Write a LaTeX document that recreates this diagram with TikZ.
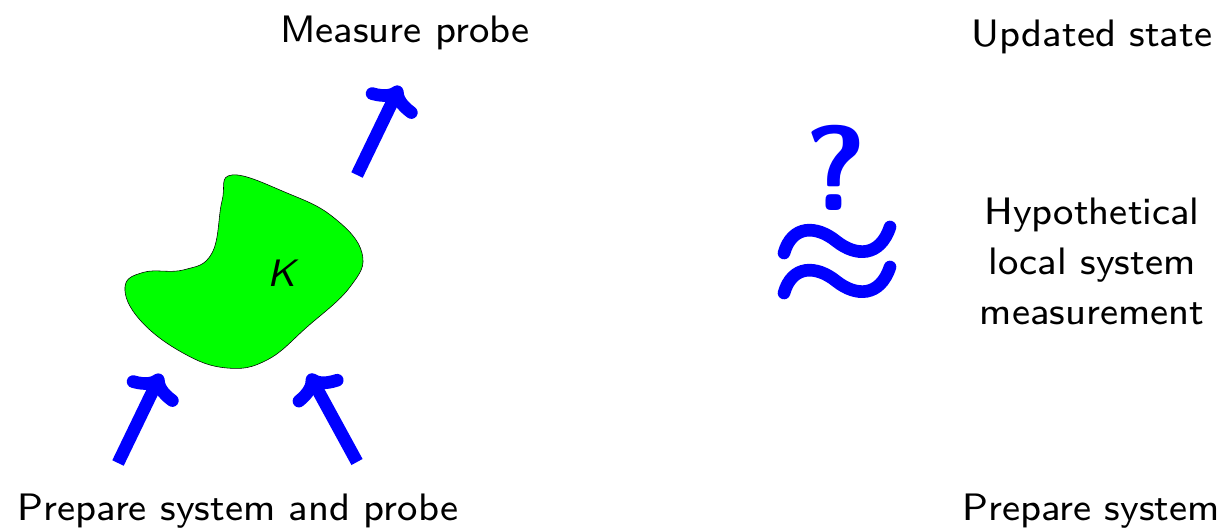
\documentclass[tikz,border=0pt]{standalone}
\usepackage{fontspec}
\usepackage{tikz}
\usetikzlibrary{arrows.meta}
\newfontfamily\slidefont[Extension=.otf, ItalicFont=lmsans8-oblique]{lmsans8-regular}
\definecolor{slideB}{RGB}{0,0,255}
\definecolor{slideG}{RGB}{0,255,0}
\tikzset{probe/.style={slideB, line width=9pt,
  -{Computer Modern Rightarrow[length=18pt, width=40pt]}},
  lbl/.style={font=\slidefont\fontsize{27.2}{35.6}\selectfont, align=center}}

\begin{document}
\begin{tikzpicture}
\useasboundingbox (0,0) rectangle (30.6,13.225);
% the channel K: a blob
\draw[thin, fill=slideG] plot[smooth cycle, tension=0.7] coordinates {(5.8,8.85) (7.175,8.4) (8.325,7.8) (9.05,6.9) (8.75,6.05) (7.675,5.05) (6.675,4.225) (5.675,4.025) (4.575,4.4) (3.5,5.225) (3.125,6.05) (3.6,6.42) (4.6,6.48) (5.3,6.9) (5.55,8.2)};
\node (K) at (7.05,6.4) {\slidefont\fontsize{27.2}{30}\selectfont\itshape K};
% left: system and probe in, probe out
\coordinate (inL) at (2.95,1.65);
\coordinate (inLtip) at (4.025,3.875);
\coordinate (inR) at (8.925,1.675);
\coordinate (inRtip) at (7.725,3.875);
\coordinate (out) at (8.925,8.85);
\coordinate (outtip) at (10.0,11.075);
\draw[probe] (inL) -- (inLtip);
\draw[probe] (inR) -- (inRtip);
\draw[probe] (out) -- (outtip);
\node[lbl] (meas) at (10.125,12.4) {Measure probe};
\node[lbl] (prep) at (5.95,0.45) {Prepare system and probe};
% right: the hypothetical local measurement
\node[slideB, font=\sffamily\bfseries\fontsize{86}{90}\selectfont] (qm) at (20.9,9.025) {?};
\foreach \dy in {0,-1}
  \draw[slideB, line width=9pt, line cap=round, yshift=\dy cm] (19.6,6.9) .. controls (19.8,7.6) and (20.4,7.6) .. (20.9,7.2) .. controls (21.4,6.8) and (22.0,6.8) .. (22.25,7.55);
\node[lbl] (upd) at (27.3,12.3) {Updated state};
\node[lbl] (hyp) at (27.3,6.7) {Hypothetical\\local system\\measurement};
\node[lbl] (prepS) at (27.275,0.45) {Prepare system};
\end{tikzpicture}
\end{document}
